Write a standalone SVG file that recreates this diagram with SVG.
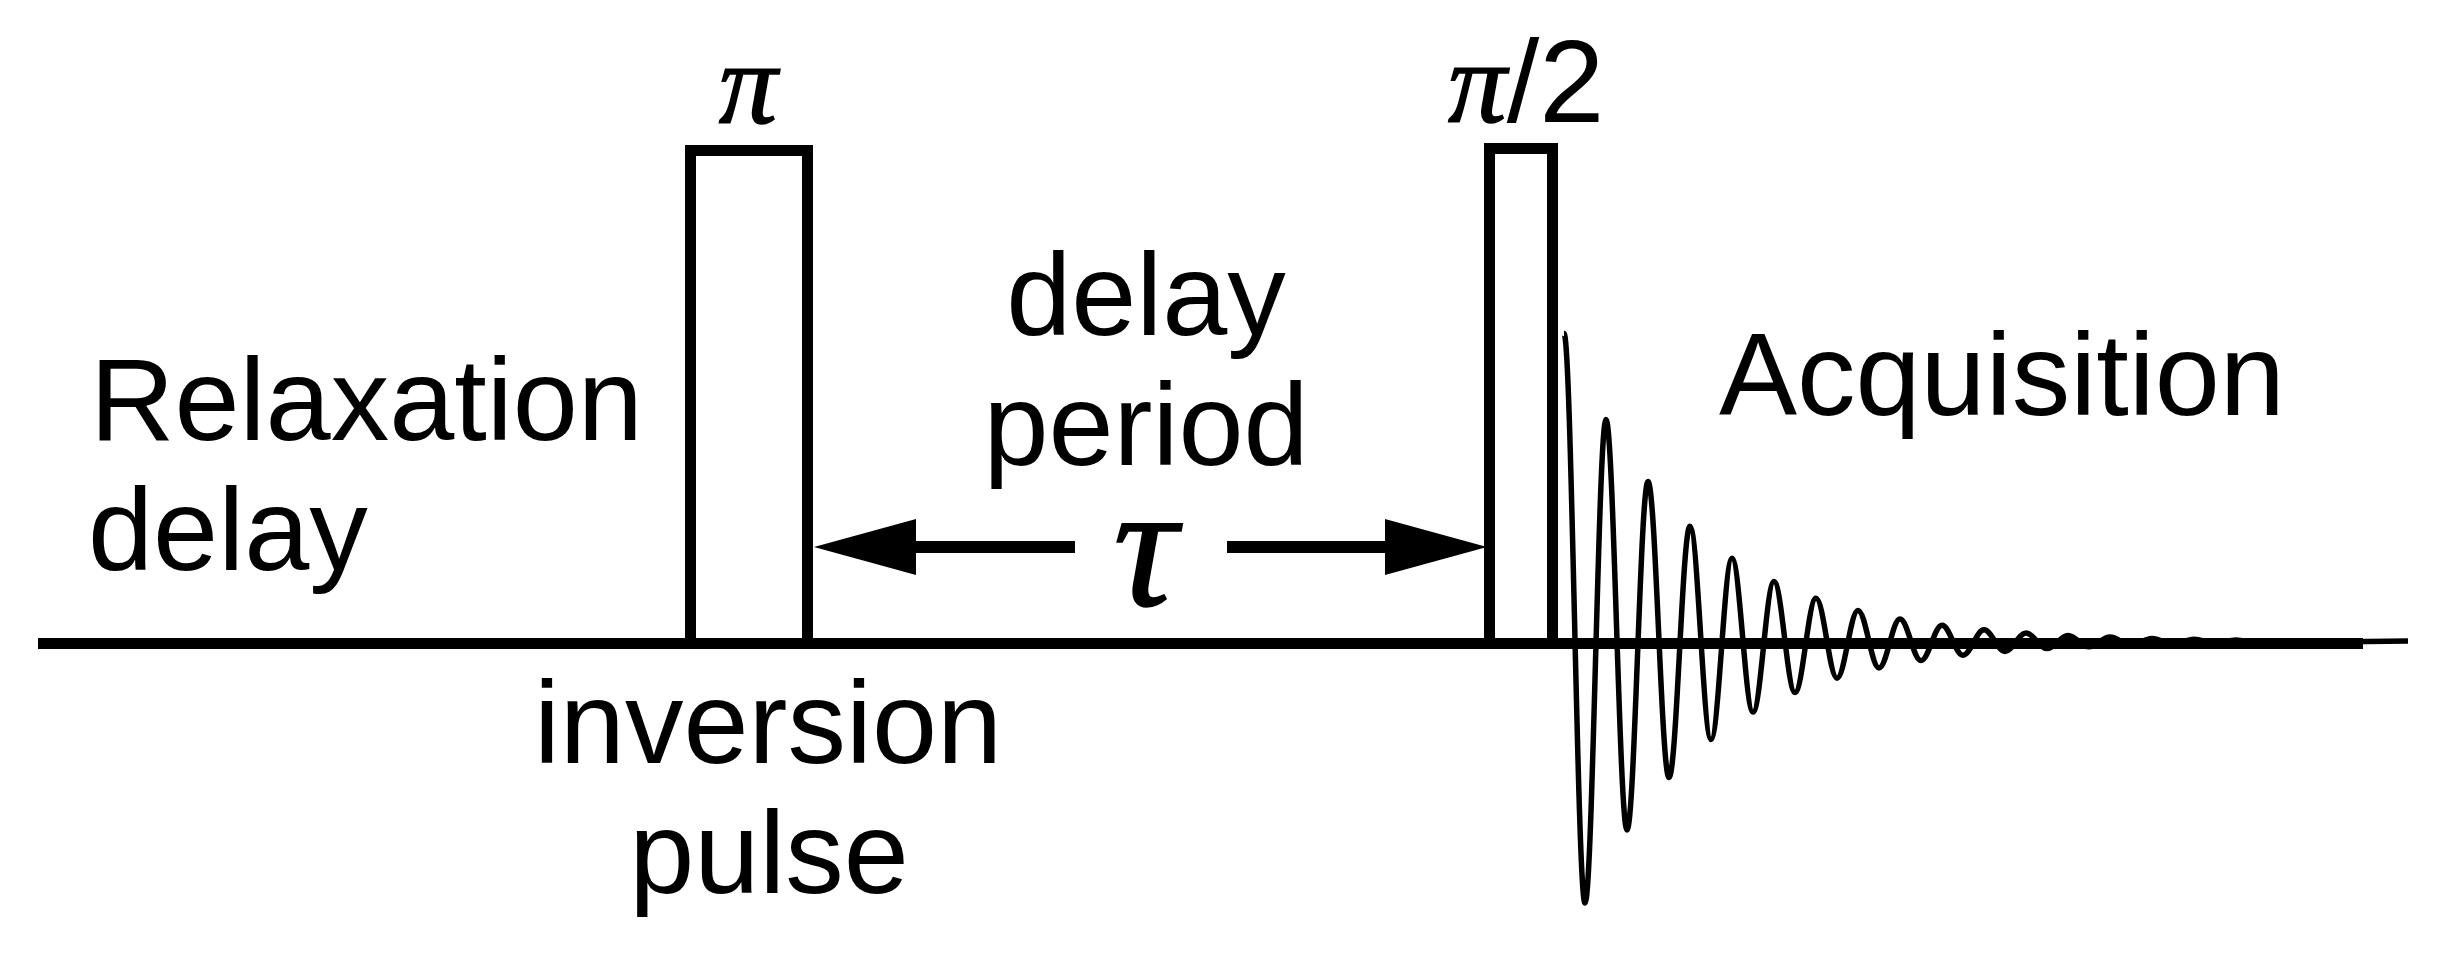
<svg xmlns="http://www.w3.org/2000/svg" width="2447" height="954" viewBox="0 0 2447 954">
<style>
.lbl{font-family:"Liberation Sans",Arial,sans-serif;font-size:117px;fill:#000}
.greek{font-family:"Liberation Serif","Times New Roman",serif;font-style:italic;fill:#000;stroke:#000;stroke-width:1.5}
.pulse{fill:#fff;stroke:#000;stroke-width:11}
.conn{stroke:#000;stroke-width:12;fill:none}
</style>
<defs>
<marker id="head" viewBox="0 0 102 56" refX="0" refY="28" markerWidth="102" markerHeight="56" markerUnits="userSpaceOnUse" orient="auto">
<path d="M0,0 L102,28 L0,56 Z" fill="#000"/>
</marker>
</defs>
<rect x="0" y="0" width="2447" height="954" fill="#fff"/>
<g id="fid">
<path fill="none" stroke="#000" stroke-width="5.5" stroke-linejoin="round" d="M1564,333.5 C1571.6,333.5 1577.4,903 1585,903 S1598.4,419.5 1606,419.5 S1619.4,830 1627,830 S1640.4,481.5 1648,481.5 S1661.4,777.4 1669,777.4 S1682.4,526.2 1690,526.2 S1703.4,739.4 1711,739.4 S1724.4,558.3 1732,558.3 S1745.4,712.1 1753,712.1 S1766.4,581.6 1774,581.6 S1787.4,692.4 1795,692.4 S1808.4,598.3 1816,598.3 S1829.4,678.2 1837,678.2 S1850.4,610.4 1858,610.4 S1871.4,667.9 1879,667.9 S1892.4,619.1 1900,619.1 S1913.4,660.6 1921,660.6 S1934.4,625.3 1942,625.3 S1955.4,655.2 1963,655.2 S1976.4,629.8 1984,629.8 S1997.4,651.4 2005,651.4 S2018.4,633.1 2026,633.1 S2039.4,648.6 2047,648.6 S2060.4,635.4 2068,635.4 S2081.4,646.7 2089,646.7 S2102.4,637.1 2110,637.1 S2123.4,645.2 2131,645.2 S2144.4,638.4 2152,638.4 S2165.4,644.2 2173,644.2 S2186.4,639.2 2194,639.2 S2207.4,643.4 2215,643.4 S2228.4,639.9 2236,639.9 S2249.4,642.9 2257,642.9 L2408,641"/>
</g>
<g id="baseline">
<line x1="38" y1="643.5" x2="2363" y2="643.5" stroke="#000" stroke-width="11"/>
</g>
<g id="pulse-pi">
<rect class="pulse" x="690.5" y="150.5" width="117" height="493"/>
<text class="greek" x="748" y="123" font-size="117" text-anchor="middle">π</text>
</g>
<g id="pulse-pi2">
<rect class="pulse" x="1489.5" y="148.5" width="63" height="495"/>
<text x="1448" y="122" font-size="117"><tspan class="greek">π</tspan><tspan class="lbl">/2</tspan></text>
</g>
<g id="label-relaxation">
<text class="lbl"><tspan x="90" y="440">Relaxation</tspan><tspan x="88" y="570">delay</tspan></text>
</g>
<g id="label-inversion">
<text class="lbl" text-anchor="middle"><tspan x="768" y="763">inversion</tspan><tspan x="769" y="893">pulse</tspan></text>
</g>
<g id="label-delay-period">
<text class="lbl" text-anchor="middle"><tspan x="1146" y="335">delay</tspan><tspan x="1146" y="465">period</tspan></text>
</g>
<g id="label-tau">
<text class="greek" x="1145" y="605" font-size="178" text-anchor="middle">τ</text>
</g>
<g id="label-acquisition">
<text class="lbl" x="1719" y="415">Acquisition</text>
</g>
<g id="connectors">
<line class="conn" x1="1075" y1="547" x2="916" y2="547" marker-end="url(#head)"/>
<line class="conn" x1="1227" y1="547" x2="1385" y2="547" marker-end="url(#head)"/>
</g>
</svg>
